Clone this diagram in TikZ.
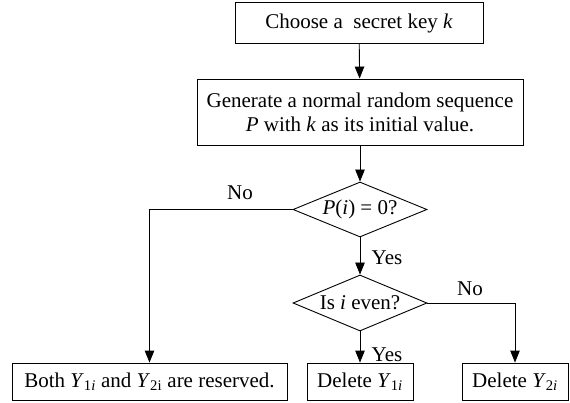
\documentclass[tikz,border=0pt]{standalone}
\usepackage{fontspec}
\setmainfont{Liberation Serif}
\usetikzlibrary{shapes.geometric,arrows.meta}
\tikzset{
  box/.style={draw, line width=0.9pt, rectangle, inner sep=0pt, align=center},
  dec/.style={draw, line width=0.9pt, diamond, inner sep=0pt},
  arr/.style={draw, line width=0.9pt, -{Triangle[length=12pt,width=9.5pt]}},
  lab/.style={inner sep=0pt}
}
\begin{document}
\begin{tikzpicture}[x=1pt,y=-1pt,font=\fontsize{21}{24}\selectfont]
\useasboundingbox (0,0) rectangle (570,403);
\node[box, minimum width=248pt, minimum height=41pt] (b1) at (359,23) {Choose a \ secret key \textit{k}};
\node[box, minimum width=326pt, minimum height=66pt] (b2) at (360,112) {Generate a normal random sequence\\\textit{P} with \textit{k} as its initial value.};
\node[dec, minimum width=134pt, minimum height=55pt, label={center:\textit{P}(\textit{i}) = 0?}] (d1) at (360,209.5) {};
\node[dec, minimum width=134pt, minimum height=56pt, label={center:Is \textit{i} even?}] (d2) at (360,303) {};
\node[box, minimum width=275pt, minimum height=37pt] (b3) at (149.5,381.5) {Both \textit{Y}\textsubscript{1\textit{i}} and \textit{Y}\textsubscript{2i} are reserved.};
\node[box, minimum width=106pt, minimum height=37pt] (b4) at (360,381.5) {Delete \textit{Y}\textsubscript{1\textit{i}}};
\node[box, minimum width=106pt, minimum height=37pt] (b5) at (515,381.5) {Delete \textit{Y}\textsubscript{2\textit{i}}};
\draw[arr] (b1) -- (b2);
\draw[arr] (b2) -- (d1);
\draw[arr] (d1.west) -| (b3.north);
\draw[arr] (d1) -- (d2);
\draw[arr] (d2) -- (b4);
\draw[arr] (d2.east) -| (b5.north);
\node[lab] (no1) at (240,193) {No};
\node[lab] (yes1) at (387,258) {Yes};
\node[lab] (no2) at (470,289) {No};
\node[lab] (yes2) at (387,355) {Yes};
\end{tikzpicture}
\end{document}
